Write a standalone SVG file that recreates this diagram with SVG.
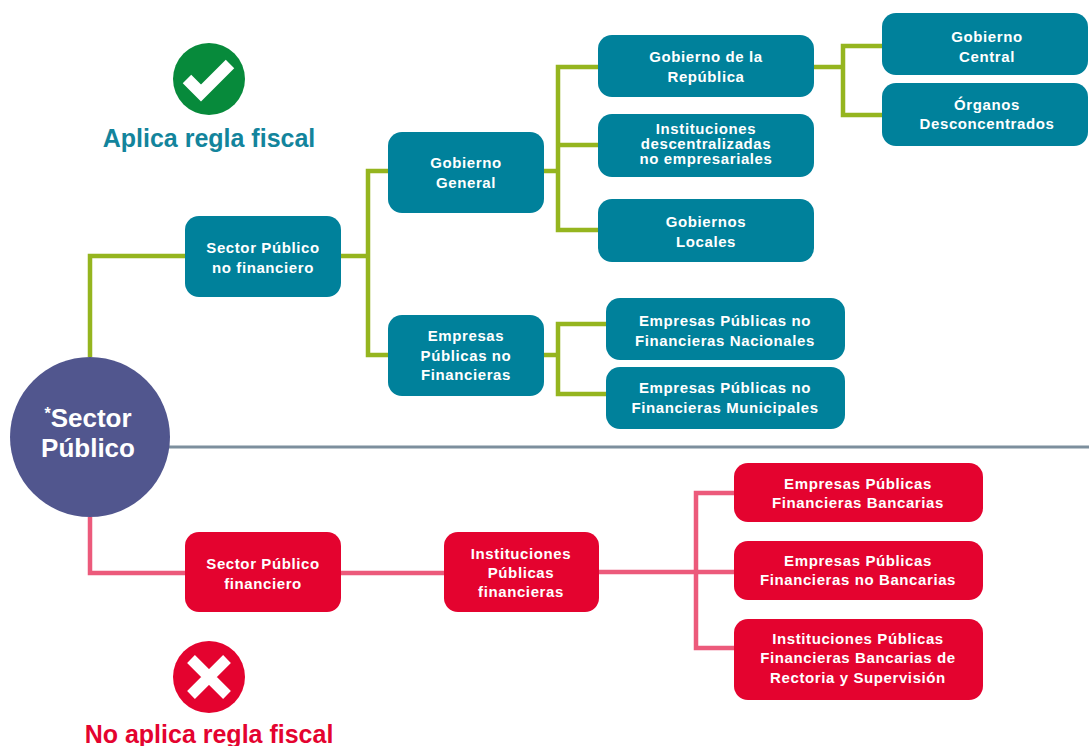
<svg xmlns="http://www.w3.org/2000/svg" width="1089" height="746" viewBox="0 0 1089 746">
<style>
.bg{fill:#ffffff}
.teal{fill:#00819b}
.red{fill:#e4032f}
.t{font-family:"Liberation Sans",Arial,sans-serif;font-weight:bold;font-size:15px;fill:#ffffff;text-anchor:middle;letter-spacing:0.6px}
.g{fill:none;stroke:#95b51f;stroke-width:4.5}
.p{fill:none;stroke:#ec5a7b;stroke-width:4.5}
.lbl{font-family:"Liberation Sans",Arial,sans-serif;font-weight:bold;font-size:25px;text-anchor:middle}
</style>
<rect class="bg" x="0" y="0" width="1089" height="746"/>

<g id="connectors">
  <path class="g" d="M90 357 V256 H185"/>
  <path class="g" d="M341 256 H368"/>
  <path class="g" d="M388 171 H368 V355 H388"/>
  <path class="g" d="M544 171 H558"/>
  <path class="g" d="M598 67 H558 V230 H598"/>
  <path class="g" d="M558 145 H598"/>
  <path class="g" d="M814 67 H843"/>
  <path class="g" d="M882 46 H843 V115 H882"/>
  <path class="g" d="M544 355 H558"/>
  <path class="g" d="M606 324 H558 V394 H606"/>
  <path class="p" d="M90 517 V573 H185"/>
  <path class="p" d="M341 573 H444"/>
  <path class="p" d="M599 572 H734"/>
  <path class="p" d="M734 493 H696 V648 H734"/>
  <line x1="168" y1="447" x2="1089" y2="447" stroke="#7d8f9d" stroke-width="3"/>
</g>

<g id="legend-aplica">
  <circle cx="209" cy="79" r="36" fill="#078a3b"/>
  <path d="M187 79 L201 93 L230 64" fill="none" stroke="#ffffff" stroke-width="12"/>
  <text class="lbl" x="209" y="147" fill="#13849c">Aplica regla fiscal</text>
</g>

<g id="legend-noaplica">
  <circle cx="209" cy="677" r="36" fill="#e4032f"/>
  <path d="M191 659 L227 695 M227 659 L191 695" fill="none" stroke="#ffffff" stroke-width="11"/>
  <text class="lbl" x="209" y="743" fill="#e4032f">No aplica regla fiscal</text>
</g>

<g id="sector-publico">
  <circle cx="90" cy="437" r="80" fill="#51568e"/>
  <text x="88" y="427" font-family="'Liberation Sans',Arial,sans-serif" font-weight="bold" font-size="26" fill="#ffffff" text-anchor="middle"><tspan font-size="16" dy="-8">*</tspan><tspan dy="8">Sector</tspan></text>
  <text x="88" y="457" font-family="'Liberation Sans',Arial,sans-serif" font-weight="bold" font-size="26" fill="#ffffff" text-anchor="middle">Público</text>
</g>

<g id="spnf">
  <rect class="teal" x="185" y="216" width="156" height="81" rx="14"/>
  <text class="t" x="263" y="253">Sector Público</text>
  <text class="t" x="263" y="273">no financiero</text>
</g>

<g id="gobierno-general">
  <rect class="teal" x="388" y="132" width="156" height="81" rx="14"/>
  <text class="t" x="466" y="168">Gobierno</text>
  <text class="t" x="466" y="188">General</text>
</g>

<g id="epnf">
  <rect class="teal" x="388" y="315" width="156" height="81" rx="14"/>
  <text class="t" x="466" y="341">Empresas</text>
  <text class="t" x="466" y="361">Públicas no</text>
  <text class="t" x="466" y="380">Financieras</text>
</g>

<g id="gobierno-republica">
  <rect class="teal" x="598" y="35" width="216" height="62" rx="14"/>
  <text class="t" x="706" y="62">Gobierno de la</text>
  <text class="t" x="706" y="82">República</text>
</g>

<g id="idne">
  <rect class="teal" x="598" y="114" width="216" height="63" rx="14"/>
  <text class="t" x="706" y="134">Instituciones</text>
  <text class="t" x="706" y="149">descentralizadas</text>
  <text class="t" x="706" y="164">no empresariales</text>
</g>

<g id="gobiernos-locales">
  <rect class="teal" x="598" y="199" width="216" height="63" rx="14"/>
  <text class="t" x="706" y="227">Gobiernos</text>
  <text class="t" x="706" y="247">Locales</text>
</g>

<g id="gobierno-central">
  <rect class="teal" x="882" y="13" width="206" height="62" rx="14"/>
  <text class="t" x="987" y="42">Gobierno</text>
  <text class="t" x="987" y="62">Central</text>
</g>

<g id="organos">
  <rect class="teal" x="882" y="83" width="206" height="63" rx="14"/>
  <text class="t" x="987" y="110">Órganos</text>
  <text class="t" x="987" y="129">Desconcentrados</text>
</g>

<g id="epnf-nacionales">
  <rect class="teal" x="606" y="298" width="239" height="62" rx="14"/>
  <text class="t" x="725" y="326">Empresas Públicas no</text>
  <text class="t" x="725" y="346">Financieras Nacionales</text>
</g>

<g id="epnf-municipales">
  <rect class="teal" x="606" y="367" width="239" height="62" rx="14"/>
  <text class="t" x="725" y="393">Empresas Públicas no</text>
  <text class="t" x="725" y="413">Financieras Municipales</text>
</g>

<g id="spf">
  <rect class="red" x="185" y="532" width="156" height="80" rx="14"/>
  <text class="t" x="263" y="569">Sector Público</text>
  <text class="t" x="263" y="589">financiero</text>
</g>

<g id="ipf">
  <rect class="red" x="444" y="532" width="155" height="80" rx="14"/>
  <text class="t" x="521" y="559">Instituciones</text>
  <text class="t" x="521" y="578">Públicas</text>
  <text class="t" x="521" y="597">financieras</text>
</g>

<g id="epfb">
  <rect class="red" x="734" y="463" width="249" height="59" rx="14"/>
  <text class="t" x="858" y="489">Empresas Públicas</text>
  <text class="t" x="858" y="508">Financieras Bancarias</text>
</g>

<g id="epfnb">
  <rect class="red" x="734" y="541" width="249" height="59" rx="14"/>
  <text class="t" x="858" y="566">Empresas Públicas</text>
  <text class="t" x="858" y="585">Financieras no Bancarias</text>
</g>

<g id="ipfbrs">
  <rect class="red" x="734" y="619" width="249" height="81" rx="14"/>
  <text class="t" x="858" y="644">Instituciones Públicas</text>
  <text class="t" x="858" y="663">Financieras Bancarias de</text>
  <text class="t" x="858" y="683">Rectoria y Supervisión</text>
</g>
</svg>
